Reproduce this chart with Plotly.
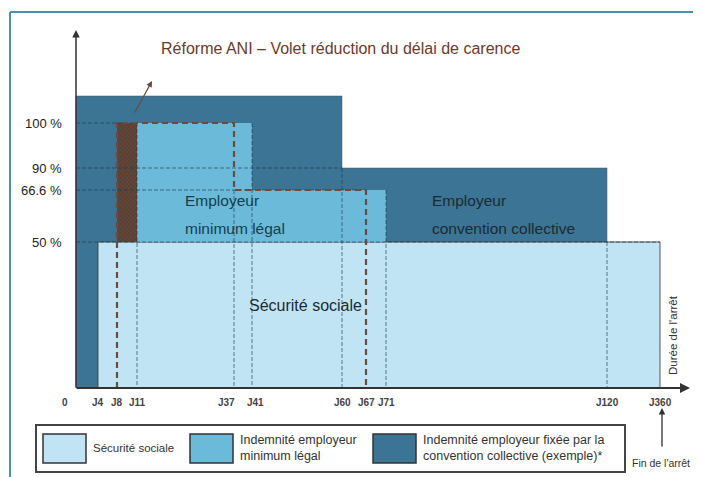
import plotly.graph_objects as go

# ---------------- data ----------------
tick_labels = ["0", "J4", "J8", "J11", "J37", "J41", "J60", "J67", "J71", "J120", "J360"]
tick_days = [0, 4, 8, 11, 37, 41, 60, 67, 71, 120, 360]
rate_labels = ["100 %", "90 %", "66.6 %", "50 %"]
rates = [100, 90, 66.6, 50]

# Sécurité sociale: from J4 to J360 at 50 %
ss_start, ss_end, ss_rate = 4, 360, 50
# Indemnité employeur minimum légal (current): steps on top of 50 %
legal_start = [11, 41]
legal_end = [41, 71]
legal_rate = [100, 66.6]
# Réforme ANI: new employer steps (dashed)
ani_start = [8, 37]
ani_end = [37, 67]
ani_rate = [100, 66.6]
# Convention collective (example)
conv_start = [0, 60]
conv_end = [60, 120]
conv_rate = [110, 90]   # first block drawn above 100 % (schematic)

# ---------------- schematic scales (non linear axes of the diagram) ----------------
X_POS = [76, 98, 117, 137, 234, 252, 342, 366, 386, 607, 660]
Y_POS = {0: 388, 50: 242, 66.6: 190, 90: 168, 100: 123, 110: 96}


def xs(day):
    return X_POS[tick_days.index(day)]


def ys(rate):
    return Y_POS[rate]


C_DARK = "#3c7495"
C_MED = "#6bbad9"
C_LIGHT = "#c1e4f5"
C_BROWN = "#5a4034"
C_GRID = "rgba(30,60,80,0.65)"

fig = go.Figure()


def poly(xv, yv, fill, line="rgba(60,60,60,0.8)", lw=1):
    fig.add_trace(go.Scatter(x=xv, y=yv, mode="lines", fill="toself", fillcolor=fill,
                             line=dict(color=line, width=lw), hoverinfo="skip",
                             showlegend=False))


# convention collective (dark)
cx = [xs(conv_start[0]), xs(conv_start[0]), xs(conv_end[0]), xs(conv_end[0]), xs(conv_end[1]), xs(conv_end[1])]
cy = [ys(0), ys(conv_rate[0]), ys(conv_rate[0]), ys(conv_rate[1]), ys(conv_rate[1]), ys(0)]
poly(cx, cy, C_DARK, line="rgba(80,80,80,0.5)")

# sécurité sociale (light)
poly([xs(ss_start), xs(ss_start), xs(ss_end), xs(ss_end)],
     [ys(0), ys(ss_rate), ys(ss_rate), ys(0)], C_LIGHT, line="rgba(60,60,60,0.85)")

# employeur minimum légal (medium)
mx = [xs(legal_start[0]), xs(legal_start[0]), xs(legal_end[0]), xs(legal_end[0]), xs(legal_end[1]), xs(legal_end[1])]
my = [ys(ss_rate), ys(legal_rate[0]), ys(legal_rate[0]), ys(legal_rate[1]), ys(legal_rate[1]), ys(ss_rate)]
poly(mx, my, C_MED, line="rgba(60,60,60,0.0)", lw=0)

# carence réduite (brown hatched)
fig.add_trace(go.Scatter(
    x=[xs(ani_start[0]), xs(ani_start[0]), xs(legal_start[0]), xs(legal_start[0])],
    y=[ys(ss_rate), ys(ani_rate[0]), ys(ani_rate[0]), ys(ss_rate)],
    mode="lines", fill="toself", fillcolor=C_BROWN,
    fillpattern=dict(shape="x", fgcolor="#7a5a4c", bgcolor=C_BROWN, size=3, solidity=0.3),
    line=dict(color=C_BROWN, width=0), hoverinfo="skip", showlegend=False))


# thin dashed guide lines
def guide(xv, yv):
    fig.add_trace(go.Scatter(x=xv, y=yv, mode="lines", line=dict(color=C_GRID, width=1, dash="4px,2px"),
                             hoverinfo="skip", showlegend=False))


guide([xs(0), xs(legal_start[0])], [ys(100), ys(100)])
guide([xs(0), xs(conv_end[0])], [ys(90), ys(90)])
guide([xs(0), xs(ani_end[1])], [ys(66.6), ys(66.6)])
guide([xs(0), xs(ss_end)], [ys(50), ys(50)])
guide([xs(11), xs(11)], [ys(100), ys(0)])
guide([xs(37), xs(37)], [ys(66.6), ys(0)])
guide([xs(41), xs(41)], [ys(100), ys(0)])
guide([xs(60), xs(60)], [ys(90), ys(0)])
guide([xs(71), xs(71)], [ys(66.6), ys(0)])
guide([xs(120), xs(120)], [ys(50), ys(0)])

# Réforme ANI dashed outline
fig.add_trace(go.Scatter(
    x=[xs(ani_start[0]), xs(ani_start[0]), xs(ani_end[0]), xs(ani_end[0]), xs(ani_end[1]), xs(ani_end[1])],
    y=[ys(0), ys(ani_rate[0]), ys(ani_rate[0]), ys(ani_rate[1]), ys(ani_rate[1]), ys(0)],
    mode="lines", line=dict(color="#6e4a3a", width=2.2, dash="6px,4px"),
    hoverinfo="skip", showlegend=False))

ann = []
# axes with arrows
ann.append(dict(x=76, y=30, ax=76, ay=389, xref="x", yref="y", axref="x", ayref="y",
                showarrow=True, arrowhead=2, arrowsize=1, arrowwidth=1.5, arrowcolor="#333", text=""))
ann.append(dict(x=690, y=388, ax=75, ay=388, xref="x", yref="y", axref="x", ayref="y",
                showarrow=True, arrowhead=2, arrowsize=1, arrowwidth=2, arrowcolor="#333", text=""))
# small brown arrow
ann.append(dict(x=152, y=81, ax=134, ay=114, xref="x", yref="y", axref="x", ayref="y",
                showarrow=True, arrowhead=2, arrowsize=1, arrowwidth=1.2, arrowcolor="#6e4a3a", text=""))
# Fin de l'arrêt arrow
ann.append(dict(x=662, y=408, ax=662, ay=448, xref="x", yref="y", axref="x", ayref="y",
                showarrow=True, arrowhead=2, arrowsize=1, arrowwidth=1.3, arrowcolor="#333", text=""))

FONT = "Liberation Sans"


def txt(x, y, t, size, color="#333", xanchor="left", bold=False, angle=0, family=FONT):
    ann.append(dict(x=x, y=y, xref="x", yref="y", text=f"<b>{t}</b>" if bold else t, showarrow=False,
                    xanchor=xanchor, yanchor="middle", textangle=angle, align="left",
                    font=dict(size=size, color=color, family=family)))


txt(340, 48, "Réforme ANI – Volet réduction du délai de carence", 16, color="#6b3a2c", xanchor="center")

for lab, r in zip(rate_labels, rates):
    txt(64, ys(r), lab, 13, color="#222", xanchor="right")

for lab, d in zip(tick_labels, tick_days):
    x = xs(d)
    if d == 0:
        x = 65
    anchor = "center"
    if d == 37:
        anchor = "right"
        x += 3
    elif d == 41:
        anchor = "left"
        x -= 7
    txt(x, 402, lab, 10, color="#444", xanchor=anchor, bold=True)

txt(183, 200, "Employeur", 15.5, color="#163e4a")
txt(183, 228, "minimum légal", 15.5, color="#163e4a")
txt(430, 200, "Employeur", 15.5, color="#1b2a33")
txt(430, 228, "convention collective", 15.5, color="#1b2a33")
txt(305, 305, "Sécurité sociale", 16, color="#1b2a33", xanchor="center")
txt(673, 335, "Durée de l'arrêt", 11.5, color="#333", xanchor="center", angle=-90)
txt(661, 463, "Fin de l'arrêt", 10.5, color="#333", xanchor="center")

# legend
legend_items = [("Sécurité sociale", C_LIGHT, 11.5), ("Indemnité employeur<br>minimum légal", C_MED, 12.5),
                ("Indemnité employeur fixée par la<br>convention collective (exemple)*", C_DARK, 12.5)]
sw_x = [43, 190, 373]
shapes = [
    dict(type="rect", xref="x", yref="y", x0=36, x1=625, y0=425, y1=472,
         line=dict(color="#444", width=2), fillcolor="rgba(0,0,0,0)"),
    dict(type="line", xref="x", yref="y", x0=10, x1=701, y0=12, y1=12, line=dict(color="#4a8fb5", width=2)),
    dict(type="line", xref="x", yref="y", x0=10, x1=10, y0=12, y1=477, line=dict(color="#4a8fb5", width=2)),
]
for (lab, col, fs), sx in zip(legend_items, sw_x):
    shapes.append(dict(type="rect", xref="x", yref="y", x0=sx, x1=sx + 43, y0=434, y1=463,
                       line=dict(color="#333", width=1.5), fillcolor=col))
    txt(sx + 48, 448, lab, fs, color="#333")

# the page adds an 8 px body margin: the figure covers page pixels 8..701 x 8..477
fig.update_layout(
    width=693, height=469, margin=dict(l=0, r=0, t=0, b=0),
    paper_bgcolor="white", plot_bgcolor="white",
    xaxis=dict(range=[8, 701], visible=False, fixedrange=True),
    yaxis=dict(range=[477, 8], visible=False, fixedrange=True),
    annotations=ann, shapes=shapes, showlegend=False,
)
fig.write_html("out.html")
